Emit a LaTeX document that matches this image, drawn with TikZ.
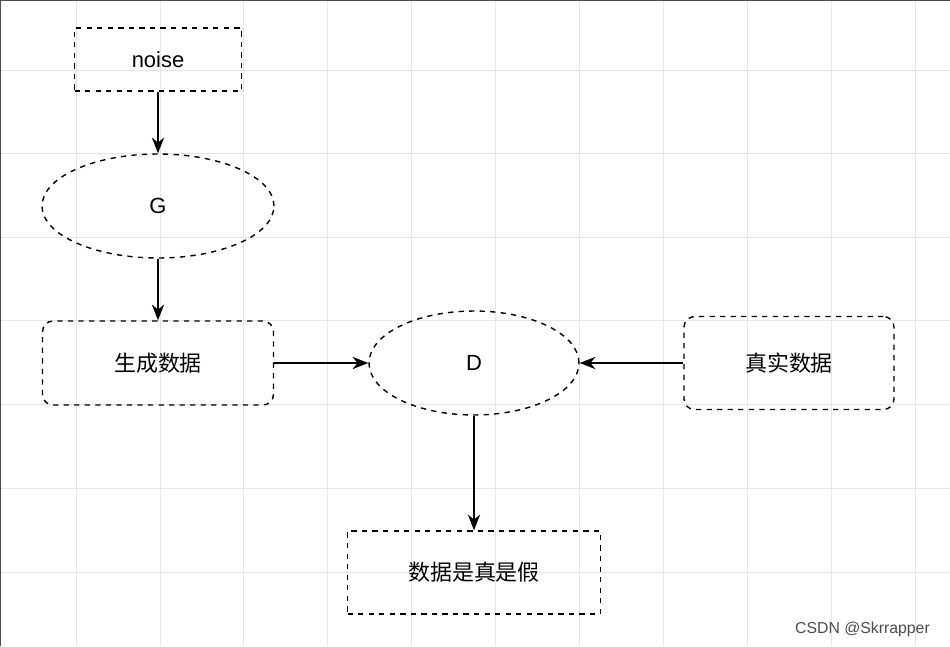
\documentclass[tikz,border=0pt]{standalone}
\usepackage{fontspec}
\setmainfont{Liberation Sans}
\newfontfamily\cjk{Noto Sans CJK SC}
\usetikzlibrary{shapes.geometric,arrows.meta}

\begin{document}
\begin{tikzpicture}[x=0.02cm,y=-0.02cm,
  every node/.style={font=\fontsize{12.5}{15}\selectfont},
  dbox/.style={draw,dashed,thick,minimum width=3.34cm,minimum height=1.26cm},
  rbox/.style={draw,dashed,thick,rounded corners=6pt,minimum width=4.62cm,minimum height=1.68cm},
  dell/.style={draw,dashed,thick,ellipse},
  arr/.style={-{Stealth[length=9pt,width=7pt]},thick}]
  \useasboundingbox (0,0) rectangle (950,646);
  \fill[white] (0,0) rectangle (950,646);
  % grid
  \foreach \x in {76,160,243,327,411,495,579,663,747,831,915}
    \draw[black!10] (\x,0) -- (\x,646);
  \foreach \y in {70,153,237,320,404,488,572}
    \draw[black!10] (0,\y) -- (950,\y);
  \draw[black!70,line width=1.5pt] (0,646) -- (0,0) -- (950,0);
  % nodes
  \node[dbox] (noise) at (158,59.5) {noise};
  \node[dell,minimum width=4.64cm,minimum height=2.08cm] (g) at (158,206) {G};
  \node[rbox] (gen) at (158,363) {\cjk 生成数据};
  \node[dell,minimum width=4.2cm,minimum height=2.08cm] (d) at (474,363) {D};
  \node[rbox,minimum width=4.2cm,minimum height=1.86cm] (real) at (789,363) {\cjk 真实数据};
  \node[dbox,minimum width=5.06cm,minimum height=1.66cm] (out) at (474,572.5) {\cjk 数据是真是假};
  % connectors
  \draw[arr] (noise) -- (g);
  \draw[arr] (g) -- (gen);
  \draw[arr] (gen) -- (d);
  \draw[arr] (real) -- (d);
  \draw[arr] (d) -- (out);
  \node[anchor=east,text=black!70,font=\fontsize{9}{11}\selectfont] (mark) at (936,629) {CSDN @Skrrapper};
\end{tikzpicture}
\end{document}
